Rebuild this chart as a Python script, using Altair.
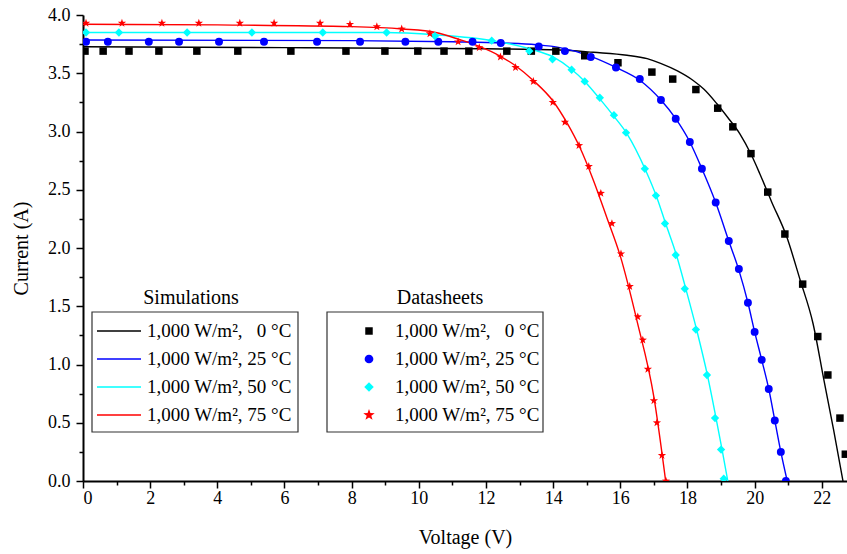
import altair as alt
import pandas as pd

FONT = "Liberation Serif"

# ---------------- data ----------------
labels = [
    "1,000 W/m\u00b2,\u00a0\u00a0\u00a00 \u00b0C",
    "1,000 W/m\u00b2, 25 \u00b0C",
    "1,000 W/m\u00b2, 50 \u00b0C",
    "1,000 W/m\u00b2, 75 \u00b0C",
]
colors = ["#000000", "#0000ff", "#00ffff", "#ff0000"]
STAR = "M0,-1L0.235,-0.324L0.951,-0.309L0.38,0.124L0.588,0.809L0,0.4L-0.588,0.809L-0.38,0.124L-0.951,-0.309L-0.235,-0.324Z"
shapes = ["square", "circle", "diamond", STAR]
sizes = [56, 76, 90, 145]

# Simulation curves (lines)
sim_v_0 = [0, 6, 12, 14.2, 15.2, 16.2, 16.8, 17.2, 17.7, 18.16, 18.5, 18.87, 19.2, 19.56, 19.9, 20.15, 20.5, 20.95, 21.35, 21.74, 22.06, 22.35, 22.63]
sim_i_0 = [3.728, 3.72, 3.71, 3.70, 3.68, 3.655, 3.625, 3.585, 3.52, 3.44, 3.36, 3.24, 3.12, 2.98, 2.80, 2.64, 2.40, 2.10, 1.73, 1.35, 0.87, 0.44, 0.0]

sim_v_25 = [0, 8, 11, 12.5, 13.5, 14.2, 15.12, 15.87, 16.58, 17.21, 17.65, 18.07, 18.43, 18.84, 19.23, 19.53, 19.8, 20.0, 20.21, 20.42, 20.6, 20.78, 20.97]
sim_i_25 = [3.785, 3.78, 3.77, 3.76, 3.745, 3.72, 3.645, 3.55, 3.44, 3.27, 3.11, 2.91, 2.68, 2.39, 2.06, 1.81, 1.53, 1.28, 1.04, 0.79, 0.52, 0.25, 0.0]

sim_v_50 = [0, 9, 10.5, 12.2, 13.3, 14.0, 14.56, 14.94, 15.39, 15.81, 16.2, 16.75, 17.08, 17.35, 17.67, 17.95, 18.28, 18.6, 18.85, 19.03, 19.2]
sim_i_50 = [3.85, 3.85, 3.83, 3.78, 3.71, 3.64, 3.53, 3.43, 3.28, 3.13, 2.98, 2.67, 2.44, 2.21, 1.94, 1.65, 1.29, 0.90, 0.54, 0.27, 0.0]

sim_v_75 = [0, 4, 8, 9.5, 10.5, 11.2, 11.8, 12.4, 12.9, 13.4, 14.0, 14.4, 14.8, 15.2, 15.6, 16.0, 16.5, 17.0, 17.35]
sim_i_75 = [3.92, 3.915, 3.90, 3.88, 3.85, 3.79, 3.73, 3.65, 3.56, 3.44, 3.26, 3.08, 2.86, 2.58, 2.26, 1.93, 1.37, 0.72, 0.0]

# Datasheet points (markers)
ds_v_0 = [0.06, 0.6, 1.37, 2.26, 3.39, 4.61, 6.19, 7.83, 8.99, 9.97, 10.75, 11.49, 12.62, 13.35, 14.08, 14.94, 15.93, 16.94, 17.56, 18.25, 18.9, 19.35, 19.89, 20.39, 20.9, 21.43, 21.88, 22.18, 22.54, 22.7]
ds_i_0 = [3.69, 3.69, 3.69, 3.69, 3.69, 3.69, 3.69, 3.69, 3.69, 3.69, 3.69, 3.69, 3.69, 3.69, 3.69, 3.65, 3.59, 3.51, 3.45, 3.36, 3.20, 3.04, 2.81, 2.48, 2.12, 1.69, 1.24, 0.91, 0.54, 0.23]

ds_v_25 = [0.09, 0.74, 1.96, 2.86, 4.05, 5.39, 6.97, 8.25, 9.6, 10.58, 11.6, 12.44, 13.57, 14.35, 15.12, 15.87, 16.58, 17.21, 17.65, 18.07, 18.43, 18.84, 19.23, 19.53, 19.8, 20.0, 20.21, 20.42, 20.6, 20.78, 20.93]
ds_i_25 = [3.77, 3.77, 3.77, 3.77, 3.77, 3.77, 3.77, 3.77, 3.77, 3.77, 3.77, 3.76, 3.73, 3.69, 3.64, 3.55, 3.45, 3.27, 3.11, 2.91, 2.68, 2.39, 2.06, 1.82, 1.53, 1.28, 1.04, 0.79, 0.52, 0.25, 0.0]

ds_v_50 = [0.09, 1.07, 3.1, 5.03, 7.14, 9.04, 10.48, 12.17, 13.29, 13.98, 14.55, 14.94, 15.39, 15.81, 16.17, 16.73, 17.06, 17.33, 17.65, 17.92, 18.25, 18.58, 18.82, 19.0, 19.08]
ds_i_50 = [3.85, 3.85, 3.85, 3.85, 3.85, 3.85, 3.82, 3.78, 3.69, 3.62, 3.53, 3.43, 3.29, 3.14, 2.99, 2.68, 2.45, 2.21, 1.94, 1.65, 1.30, 0.91, 0.54, 0.27, 0.02]

ds_v_75 = [0.09, 1.16, 2.35, 3.45, 4.67, 5.69, 7.06, 7.95, 8.75, 9.49, 10.33, 11.17, 11.8, 12.43, 12.88, 13.41, 13.99, 14.35, 14.77, 15.06, 15.42, 15.75, 16.02, 16.28, 16.52, 16.67, 16.82, 17.0, 17.09, 17.24, 17.36]
ds_i_75 = [3.93, 3.93, 3.93, 3.93, 3.93, 3.93, 3.93, 3.92, 3.90, 3.88, 3.84, 3.77, 3.72, 3.64, 3.55, 3.43, 3.25, 3.08, 2.88, 2.70, 2.47, 2.21, 1.95, 1.67, 1.41, 1.21, 0.96, 0.69, 0.50, 0.22, 0.0]

x_major = [0, 2, 4, 6, 8, 10, 12, 14, 16, 18, 20, 22]
x_minor = [1, 3, 5, 7, 9, 11, 13, 15, 17, 19, 21]
y_major = [0.0, 0.5, 1.0, 1.5, 2.0, 2.5, 3.0, 3.5, 4.0]
y_minor = [0.25, 0.75, 1.25, 1.75, 2.25, 2.75, 3.25, 3.75]

# ---------------- tables ----------------
sim_sets = [(sim_v_0, sim_i_0), (sim_v_25, sim_i_25), (sim_v_50, sim_i_50), (sim_v_75, sim_i_75)]
ds_sets = [(ds_v_0, ds_i_0), (ds_v_25, ds_i_25), (ds_v_50, ds_i_50), (ds_v_75, ds_i_75)]

rows = []
for lab, (vs, cs) in zip(labels, sim_sets):
    for k, (v, c) in enumerate(zip(vs, cs)):
        rows.append({"series": lab, "V": v, "I": c, "k": k})
sim_df = pd.DataFrame(rows)

rows = []
for lab, (vs, cs) in zip(labels, ds_sets):
    for v, c in zip(vs, cs):
        rows.append({"series": lab, "V": v, "I": c})
ds_df = pd.DataFrame(rows)

W, H = 764, 466
x_dom = [0, 22.75]
y_dom = [0, 4]

color_scale = alt.Scale(domain=labels, range=colors)

lines = alt.Chart(sim_df).mark_line(strokeWidth=1.4, interpolate="monotone", clip=True).encode(
    x=alt.X("V:Q", scale=alt.Scale(domain=x_dom, nice=False, zero=False),
            axis=alt.Axis(values=x_major, tickSize=7, labelPadding=1, title="Voltage (V)",
                          titlePadding=20, orient="bottom", grid=False)),
    y=alt.Y("I:Q", scale=alt.Scale(domain=y_dom, nice=False),
            axis=alt.Axis(values=y_major, format=".1f", tickSize=7, labelPadding=6,
                          title="Current (A)", titlePadding=16, orient="left", grid=False)),
    color=alt.Color("series:N", scale=color_scale, legend=None),
    detail="series:N",
    order="k:Q",
)

points = alt.Chart(ds_df).mark_point(filled=True, opacity=1, clip=True).encode(
    x=alt.X("V:Q", scale=alt.Scale(domain=x_dom, nice=False, zero=False),
            axis=alt.Axis(values=x_minor, tickSize=4, labels=False, domain=False, title=None,
                          orient="bottom", grid=False)),
    y=alt.Y("I:Q", scale=alt.Scale(domain=y_dom, nice=False),
            axis=alt.Axis(values=y_minor, tickSize=4, labels=False, domain=False, title=None,
                          orient="left", grid=False)),
    color=alt.Color("series:N", scale=color_scale, legend=None),
    shape=alt.Shape("series:N", scale=alt.Scale(domain=labels, range=shapes), legend=None),
    size=alt.Size("series:N", scale=alt.Scale(domain=labels, range=sizes), legend=None),
)

one = pd.DataFrame({"a": [0]})

# ---------------- legends (hand-placed boxes) ----------------
LEG_FS = 19
row_y = [316, 344, 372, 400]

deco = []
# boxes
deco.append(alt.Chart(one).mark_rect(fill="white", stroke="#333333", strokeWidth=1.2).encode(
    x=alt.value(9), x2=alt.value(215), y=alt.value(297), y2=alt.value(417)))
deco.append(alt.Chart(one).mark_rect(fill="white", stroke="#333333", strokeWidth=1.2).encode(
    x=alt.value(244), x2=alt.value(460), y=alt.value(297), y2=alt.value(417)))
# titles
deco.append(alt.Chart(pd.DataFrame({"t": ["Simulations"]})).mark_text(
    font=FONT, fontSize=20, align="center", baseline="middle", color="black").encode(
    x=alt.value(108), y=alt.value(283), text="t:N"))
deco.append(alt.Chart(pd.DataFrame({"t": ["Datasheets"]})).mark_text(
    font=FONT, fontSize=20, align="center", baseline="middle", color="black").encode(
    x=alt.value(357), y=alt.value(283), text="t:N"))

for i, lab in enumerate(labels):
    ry = row_y[i]
    deco.append(alt.Chart(one).mark_rule(color=colors[i], strokeWidth=1.4).encode(
        x=alt.value(14), x2=alt.value(58), y=alt.value(ry)))
    deco.append(alt.Chart(pd.DataFrame({"t": [lab]})).mark_text(
        font=FONT, fontSize=LEG_FS, align="left", baseline="middle", color="black").encode(
        x=alt.value(64), y=alt.value(ry), text="t:N"))
    deco.append(alt.Chart(one).mark_point(filled=True, opacity=1, shape=shapes[i],
                                          size=sizes[i], color=colors[i]).encode(
        x=alt.value(286), y=alt.value(ry)))
    deco.append(alt.Chart(pd.DataFrame({"t": [lab]})).mark_text(
        font=FONT, fontSize=LEG_FS, align="left", baseline="middle", color="black").encode(
        x=alt.value(312), y=alt.value(ry), text="t:N"))

chart = alt.layer(lines, points, *deco).resolve_scale(
    x="independent", y="independent"
).properties(
    width=W, height=H,
    padding={"left": 83, "top": 15, "right": 0, "bottom": 73},
    autosize=alt.AutoSizeParams(type="none"),
).configure_view(stroke=None).configure_axis(
    labelFont=FONT, titleFont=FONT, labelFontSize=18, titleFontSize=20,
    labelColor="black", titleColor="black", titleFontWeight="normal",
    domainColor="black", tickColor="black", domainWidth=2, tickWidth=1.5,
)

chart.save("out.html", embed_options={"renderer": "svg", "actions": False})
